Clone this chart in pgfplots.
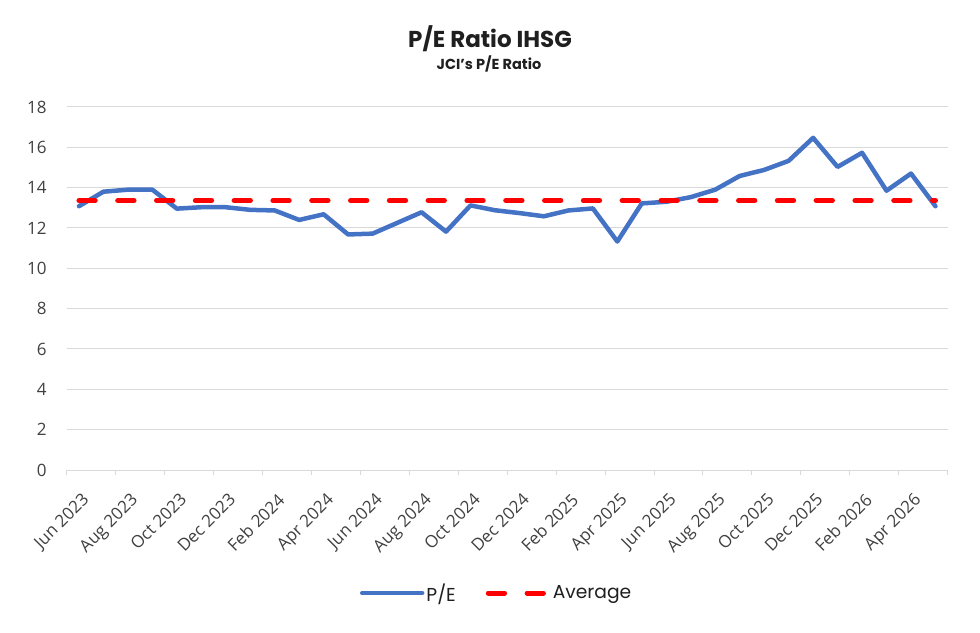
\documentclass[border=0pt]{standalone}
\usepackage{pgfplots}
\pgfplotsset{compat=1.18}
\usepackage{fontspec}
\setmainfont{Open Sans}
\newfontfamily\poppins{Poppins}
\definecolor{peblue}{HTML}{4472C4}
\definecolor{avgred}{HTML}{FF0000}
\definecolor{gridgray}{HTML}{D9D9D9}
\definecolor{ticktext}{HTML}{404040}
\pgfplotstableread{
x pe
0 13.08
1 13.80
2 13.90
3 13.90
4 12.96
5 13.03
6 13.03
7 12.90
8 12.87
9 12.40
10 12.68
11 11.68
12 11.72
13 12.25
14 12.78
15 11.82
16 13.12
17 12.88
18 12.74
19 12.58
20 12.87
21 12.97
22 11.33
23 13.22
24 13.30
25 13.53
26 13.90
27 14.58
28 14.88
29 15.33
30 16.47
31 15.03
32 15.73
33 13.85
34 14.70
35 13.08
}\petable
\begin{document}
\begin{tikzpicture}
\useasboundingbox (0,0) rectangle (980pt,632pt);
\node[font=\poppins\bfseries\fontsize{23}{27}\selectfont, text=black!88] at (490pt,593pt) {P/E Ratio IHSG};
\node[font=\poppins\bfseries\fontsize{14.5}{17}\selectfont, text=black!88] at (489pt,568pt) {JCI’s P/E Ratio};
\begin{axis}[
  at={(66.7pt,162pt)}, anchor=south west,
  scale only axis, width=881pt, height=363pt,
  xmin=-0.5, xmax=35.5, ymin=0, ymax=18,
  ytick={0,2,...,18},
  xtick={0,2,...,34},
  xticklabels={Jun 2023,Aug 2023,Oct 2023,Dec 2023,Feb 2024,Apr 2024,Jun 2024,Aug 2024,Oct 2024,Dec 2024,Feb 2025,Apr 2025,Jun 2025,Aug 2025,Oct 2025,Dec 2025,Feb 2026,Apr 2026},
  minor xtick={-0.5,1.5,...,35.5},
  axis x line*=bottom, axis y line*=left,
  y axis line style={draw=none},
  x axis line style={gridgray, line width=1pt, -},
  tick align=outside,
  major tick length=0pt,
  minor tick length=5pt,
  minor tick style={gridgray, line width=1pt},
  ymajorgrids, major grid style={gridgray, line width=1pt},
  /pgf/number format/assume math mode=true,
  yticklabel style={font=\fontsize{17}{20}\selectfont, text=ticktext, anchor=east, inner sep=0pt, xshift=-20pt},
  xticklabel style={xshift=2pt, yshift=-22pt, font=\fontsize{17}{20}\selectfont, text=ticktext, rotate=45, anchor=north east, inner sep=0pt},
  legend columns=2,
  legend style={at={(0.488,-0.339)}, anchor=center, draw=none, fill=none,
    font=\poppins\fontsize{18.7}{22}\selectfont, text=black!88,
    /tikz/every even column/.append style={column sep=28pt}},
  legend image code/.code={\draw[#1] (0pt,0pt) -- (60pt,0pt);},
]
\addplot[peblue, line width=4.5pt, line join=round, line cap=round] table[x=x,y=pe] {\petable};
\addlegendentry{P/E}
\addplot[avgred, line width=5pt, line cap=round, dash pattern=on 16.3pt off 22.5pt] coordinates {(0,13.36) (35,13.36)};
\addlegendentry{Average}
\end{axis}
\end{tikzpicture}
\end{document}
